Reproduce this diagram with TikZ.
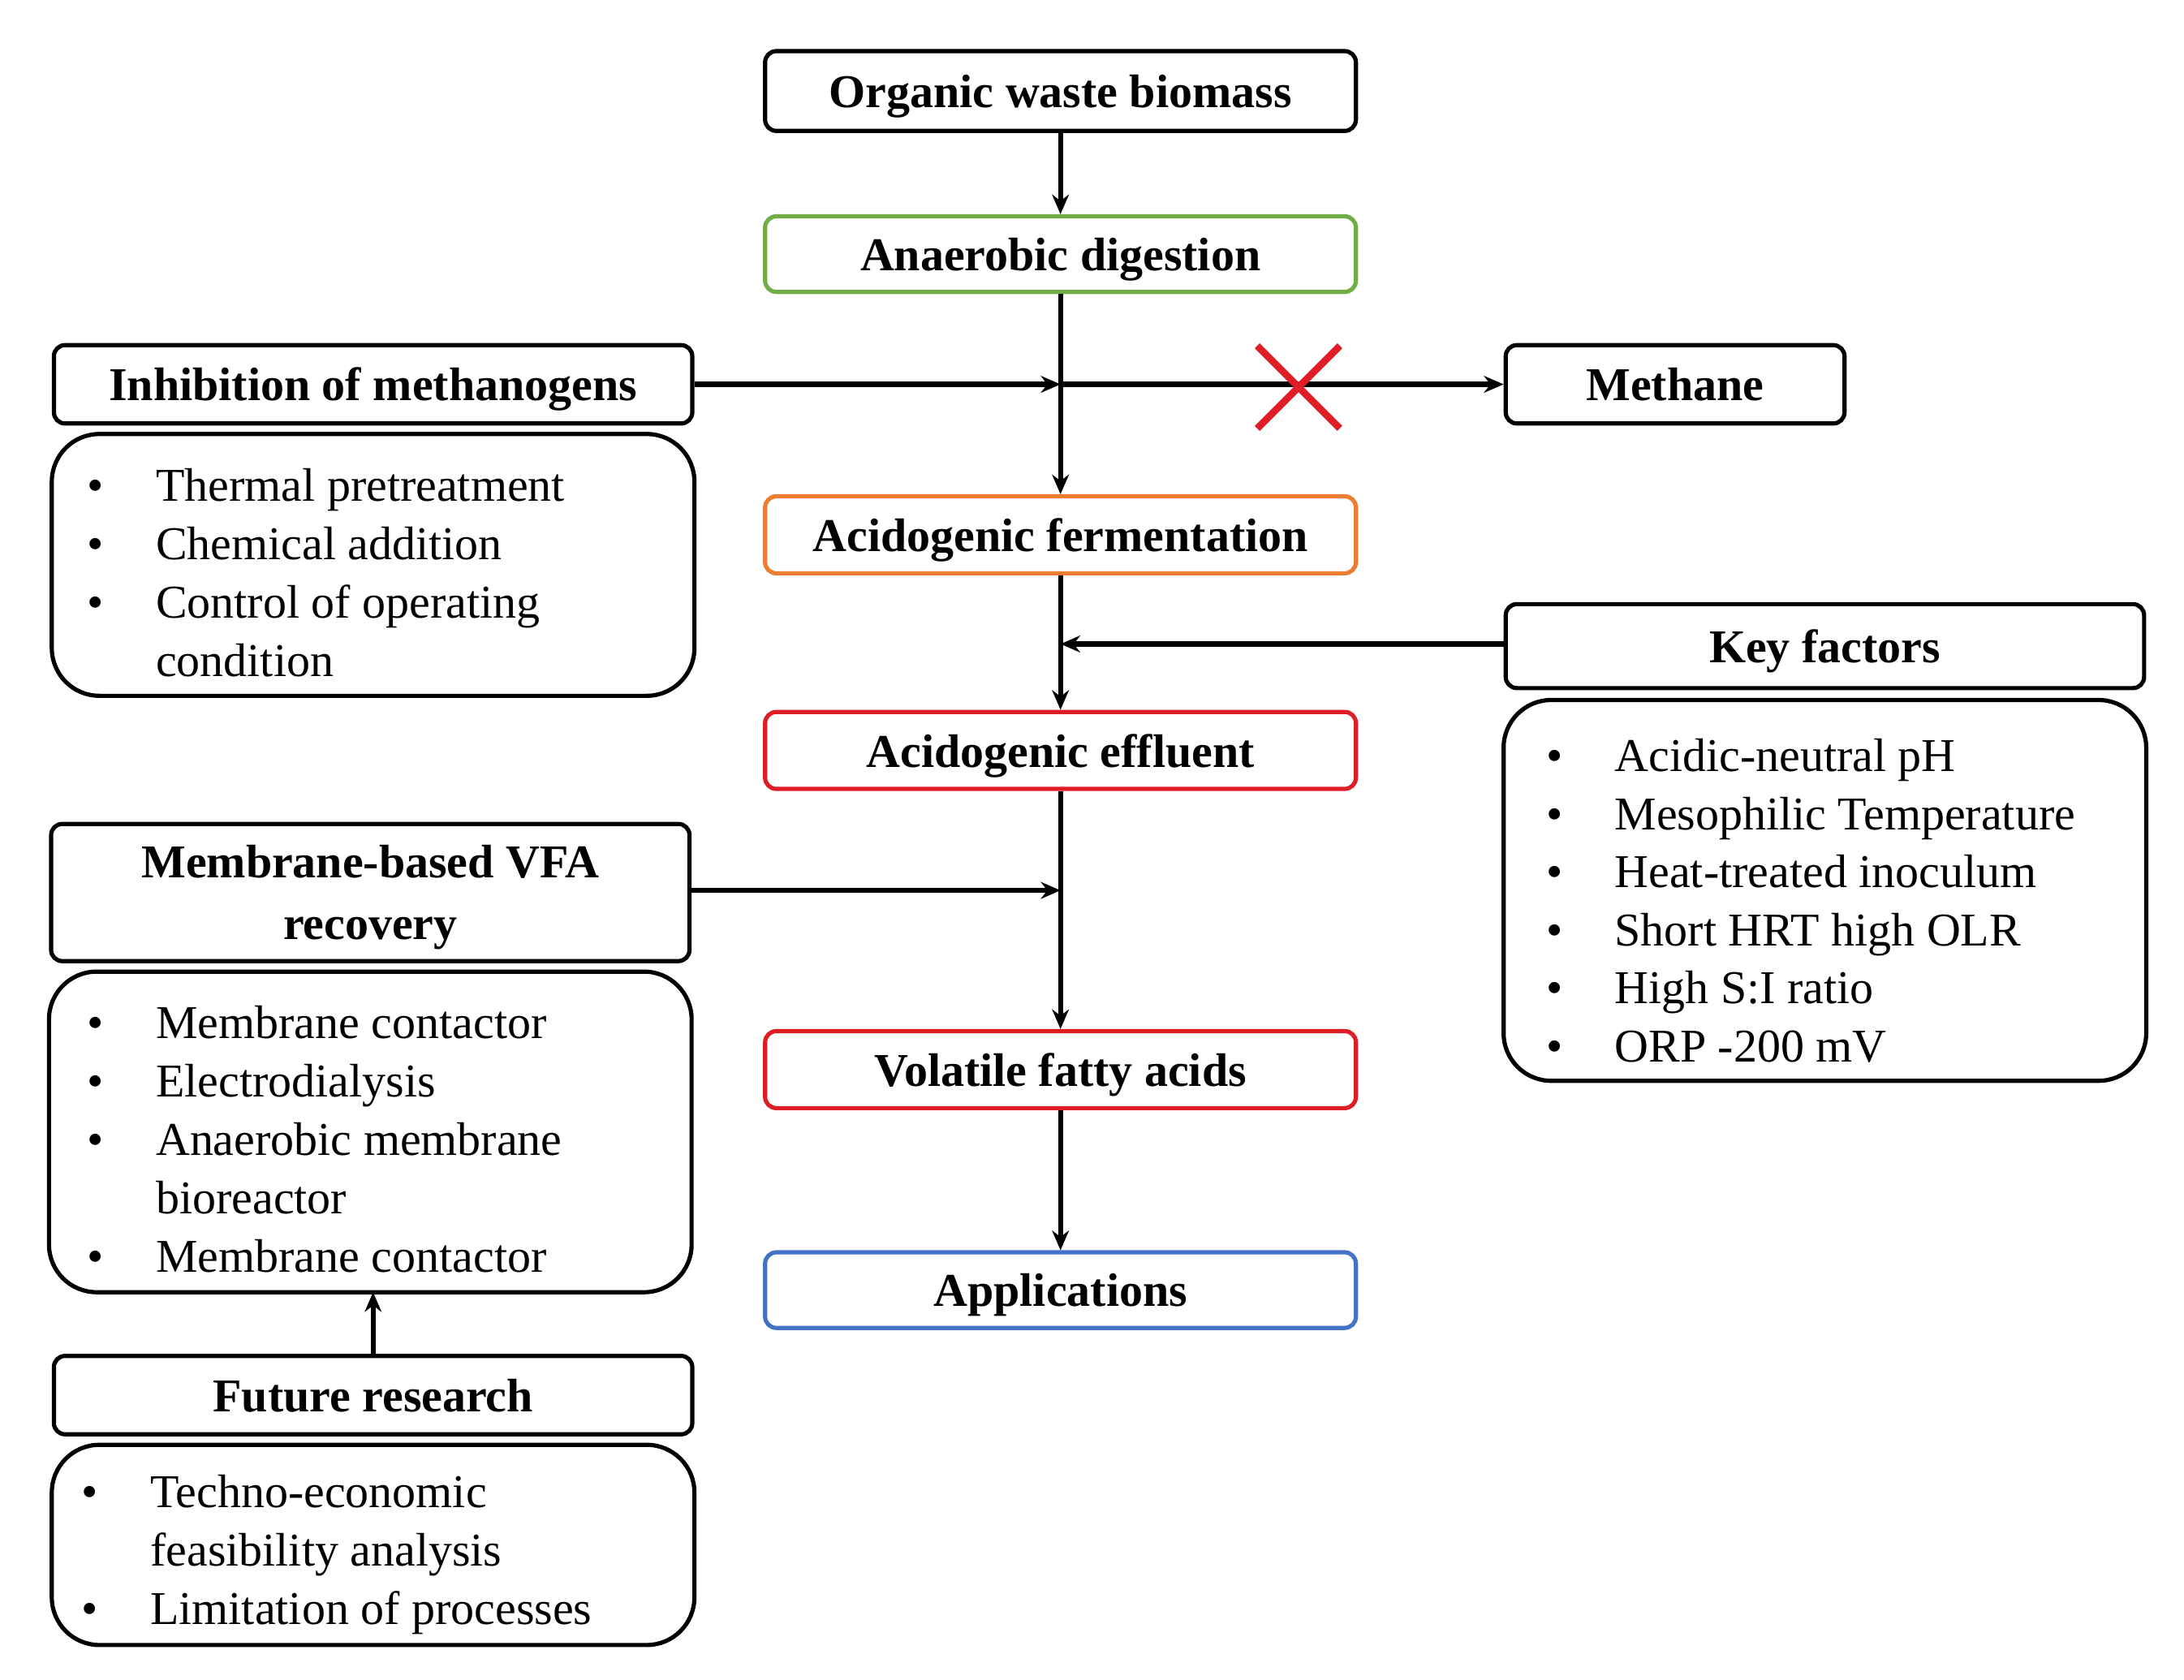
\documentclass[tikz,border=0pt]{standalone}
\usepackage{fontspec}
\setmainfont{Liberation Serif}
\usetikzlibrary{arrows.meta}
\definecolor{cgreen}{RGB}{112,173,71}
\definecolor{corange}{RGB}{237,125,49}
\definecolor{cred}{RGB}{222,30,36}
\definecolor{cblue}{RGB}{68,114,196}
\begin{document}
\begin{tikzpicture}[x=0.5pt,y=-0.5pt,
  box/.style={draw,line width=1.5pt,rounded corners=4pt,font=\fontsize{16.8}{20}\selectfont\bfseries,align=center,inner sep=0pt,text depth=-2pt},
  lst/.style={draw,line width=1.5pt,rounded corners=17pt},
  itm/.style={anchor=base west,inner sep=0pt,font=\fontsize{16.8}{20}\selectfont},
  arr/.style={line width=1.8pt,-{Stealth[length=7pt,width=6pt]}}]
\useasboundingbox (0,0) rectangle (1560,1200);
% main boxes
\node[box,minimum width=211pt,minimum height=28.5pt] (org) at (757.5,65) {Organic waste biomass};
\node[box,draw=cgreen,minimum width=211pt,minimum height=27pt] (ana) at (757.5,181.5) {Anaerobic digestion};
\node[box,draw=corange,minimum width=211pt,minimum height=27.5pt] (acf) at (757.5,382) {Acidogenic fermentation};
\node[box,draw=cred,minimum width=211pt,minimum height=27.5pt] (eff) at (757.5,536) {Acidogenic effluent};
\node[box,draw=cred,minimum width=211pt,minimum height=27.5pt] (vfa) at (757.5,764) {Volatile fatty acids};
\node[box,draw=cblue,minimum width=211pt,minimum height=27pt] (app) at (757.5,921.5) {Applications};
% side titles
\node[box,minimum width=228pt,minimum height=28pt] (inh) at (266.5,274.5) {Inhibition of methanogens};
\node[box,minimum width=121pt,minimum height=28pt] (met) at (1196.5,274.5) {Methane};
\node[box,minimum width=228pt,minimum height=30pt] (key) at (1303.5,461.5) {Key factors};
\node[box,minimum width=228pt,minimum height=49pt] (mem) at (264.5,637.5) {Membrane-based VFA\\[2pt]recovery};
\node[box,minimum width=228pt,minimum height=28pt] (fut) at (266.5,996.5) {Future research};
% list boxes
\draw[lst] (37,310) rectangle (496,497);
\draw[lst] (1074,500) rectangle (1533,772);
\draw[lst] (35,694) rectangle (494,923);
\draw[lst] (37,1032) rectangle (496,1175);
% list items
\foreach \t [count=\i] in {Thermal pretreatment,Chemical addition,Control of operating,condition}{
  \node[itm] (i\i) at (111,{358+41.7*(\i-1)}) {\t};}
\foreach \i in {1,2,3}{\node[itm] (bi\i) at (62,{358+41.7*(\i-1)}) {\textbullet};}
\foreach \t [count=\i] in {Acidic-neutral pH,Mesophilic Temperature,Heat-treated inoculum,Short HRT high OLR,High S:I ratio,ORP -200 mV}{
  \node[itm] (k\i) at (1153,{551+41.5*(\i-1)}) {\t};
  \node[itm] (bk\i) at (1104,{551+41.5*(\i-1)}) {\textbullet};}
\foreach \t [count=\i] in {Membrane contactor,Electrodialysis,Anaerobic membrane,bioreactor,Membrane contactor}{
  \node[itm] (m\i) at (111,{742+41.7*(\i-1)}) {\t};}
\foreach \i in {1,2,3,5}{\node[itm] (bm\i) at (62,{742+41.7*(\i-1)}) {\textbullet};}
\foreach \t [count=\i] in {Techno-economic,feasibility analysis,Limitation of processes}{
  \node[itm] (f\i) at (107,{1077+41.7*(\i-1)}) {\t};}
\node[itm] (bf1) at (58,1077) {\textbullet};
\node[itm] (bf3) at (58,1160.4) {\textbullet};
% connectors
\coordinate (j1) at (757.5,274.5);
\coordinate (j2) at (757.5,460);
\coordinate (j3) at (757.5,636);
\draw[arr] (org) -- (ana);
\draw[arr] (ana) -- (acf);
\draw[arr] (inh) -- (j1);
\draw[arr] (j1) -- (met);
\draw[arr] (acf) -- (eff);
\draw[arr] (key.west |- j2) -- (j2);
\draw[arr] (eff) -- (vfa);
\draw[arr] (mem.east |- j3) -- (j3);
\draw[arr] (vfa) -- (app);
\draw[arr] (fut.north) -- (fut.north |- 0,923);
% red cross
\draw[cred,line width=2.5pt] (898,247) -- (957,306) (898,306) -- (957,247);
\end{tikzpicture}
\end{document}
